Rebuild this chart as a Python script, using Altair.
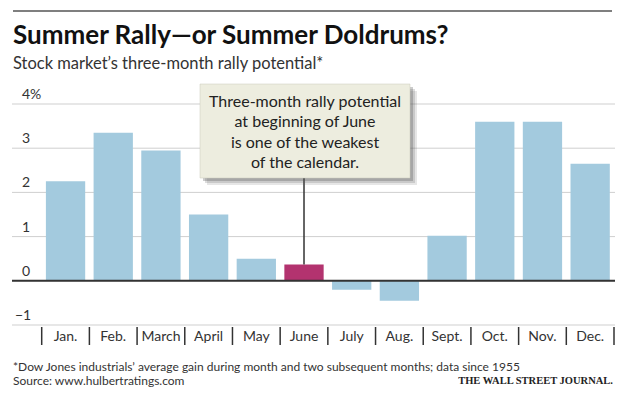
import altair as alt
import pandas as pd

months = ["Jan.", "Feb.", "March", "April", "May", "June", "July", "Aug.", "Sept.", "Oct.", "Nov.", "Dec."]
values = [2.25, 3.35, 2.95, 1.5, 0.5, 0.37, -0.2, -0.45, 1.02, 3.6, 3.6, 2.65]
highlight = "June"
y_ticks = [-1, 0, 1, 2, 3, 4]
y_tick_labels = ["−1", "0", "1", "2", "3", "4%"]

title = "Summer Rally—or Summer Doldrums?"
subtitle = "Stock market’s three-month rally potential*"
note_lines = ["Three-month rally potential", "at beginning of June", "is one of the weakest", "of the calendar."]
footnote = "*Dow Jones industrials’ average gain during month and two subsequent months; data since 1955"
source = "Source: www.hulbertratings.com"
brand = "THE WALL STREET JOURNAL."

W, H = 603, 221
FONT = "Lato"
BLUE = "#a3cade"
MAGENTA = "#b3336f"

df = pd.DataFrame({"month": months, "value": values})
df["hl"] = df["month"] == highlight
ydf = pd.DataFrame({"v": y_ticks, "label": y_tick_labels})

xscale = alt.Scale(domain=months, range=[29.7, 602], paddingInner=0, paddingOuter=0)
yscale = alt.Scale(domain=[-1, 4], nice=False)

base = alt.Chart(df)

grid = alt.Chart(ydf).mark_rule(color="#cfcfcf", strokeWidth=1).encode(
    y=alt.Y("v:Q", scale=yscale, axis=None),
    x=alt.value(0), x2=alt.value(W),
)

bars = base.mark_bar(width=alt.RelativeBandSize(0.824)).encode(
    x=alt.X("month:N", scale=xscale, sort=months, axis=None),
    y=alt.Y("value:Q", scale=yscale, axis=None),
    y2=alt.datum(0),
    color=alt.condition(alt.datum.hl, alt.value(MAGENTA), alt.value(BLUE)),
)

zero = alt.Chart(ydf).transform_filter(alt.datum.v == 0).mark_rule(color="#333333", strokeWidth=2).encode(
    y=alt.Y("v:Q", scale=yscale), x=alt.value(0), x2=alt.value(W)
)

ylab = alt.Chart(ydf).transform_filter(alt.datum.v >= 0).mark_text(
    align="left", baseline="bottom", dy=-2, font=FONT, fontSize=14, color="#333333"
).encode(y=alt.Y("v:Q", scale=yscale), x=alt.value(10), text="label:N")

ylab_neg = alt.Chart(ydf).transform_filter(alt.datum.v < 0).mark_text(
    align="left", baseline="bottom", dy=-2, font=FONT, fontSize=14, color="#333333"
).encode(y=alt.Y("v:Q", scale=yscale), x=alt.value(3), text="label:N")

seps = base.mark_rule(color="#333333", strokeWidth=1.5).encode(
    x=alt.X("month:N", scale=xscale, sort=months, bandPosition=0),
    y=alt.value(223), y2=alt.value(241),
)
seps_end = base.transform_filter(alt.datum.month == months[-1]).mark_rule(color="#333333", strokeWidth=1.5).encode(
    x=alt.X("month:N", scale=xscale, sort=months, bandPosition=1),
    y=alt.value(223), y2=alt.value(241),
)
mlab = base.mark_text(font=FONT, fontSize=14, color="#333333", baseline="middle").encode(
    x=alt.X("month:N", scale=xscale, sort=months), y=alt.value(233), text="month:N"
)

hl = base.transform_filter(alt.datum.hl)
leader = hl.mark_rule(color="#333333", strokeWidth=1.5).encode(
    x=alt.X("month:N", scale=xscale, sort=months),
    y=alt.Y("value:Q", scale=yscale), y2=alt.value(74),
)

shadows = []
for i, op in enumerate([0.15, 0.2, 0.3]):
    off = 7 - 2 * i
    shadows.append(
        hl.mark_rect(color="#555555", opacity=op).encode(
            x=alt.value(188 + off), x2=alt.value(398 + off), y=alt.value(-20 + off), y2=alt.value(74 + off)
        )
    )
box = hl.mark_rect(color="#ededdf", stroke="#c9c8b8", strokeWidth=0.5).encode(
    x=alt.value(188), x2=alt.value(398), y=alt.value(-20), y2=alt.value(74)
)
box_text = hl.mark_text(
    font=FONT, fontSize=16, color="#222222", align="center", baseline="middle", lineHeight=20.5
).encode(x=alt.value(293), y=alt.value(-2.3), text=alt.value(note_lines))

def txt(s, x, y, size, weight="normal", color="#333333", align="left", font=FONT):
    return alt.Chart(pd.DataFrame({"t": [s]})).mark_text(
        font=font, fontSize=size, fontWeight=weight, color=color, align=align, baseline="middle"
    ).encode(x=alt.value(x), y=alt.value(y), text="t:N")

toprule = alt.Chart(ydf).transform_filter(alt.datum.v == 0).mark_rule(color="#555555", strokeWidth=1.5).encode(
    x=alt.value(1), x2=alt.value(600), y=alt.value(-93)
)

texts = [
    txt(title, 1, -68, 26, "bold", "#111111"),
    txt(subtitle, 1, -40, 16.5, "normal", "#333333"),
    txt(footnote, 1, 263, 12, "normal", "#333333"),
    txt(source, 1, 277, 12, "normal", "#333333"),
    txt(brand, 601, 277, 10.5, "bold", "#222222", "right", "Liberation Serif"),
]

chart = alt.layer(
    grid, bars, zero, ylab, ylab_neg, seps, seps_end, mlab, leader, *shadows, box, box_text, toprule, *texts
).properties(
    width=W, height=H,
    autosize=alt.AutoSizeParams(type="none"),
    padding={"left": 4, "top": 96, "right": 7, "bottom": 74},
    background="white",
).configure_view(stroke=None)

chart.save("out.html", embed_options={"renderer": "svg", "actions": False})
